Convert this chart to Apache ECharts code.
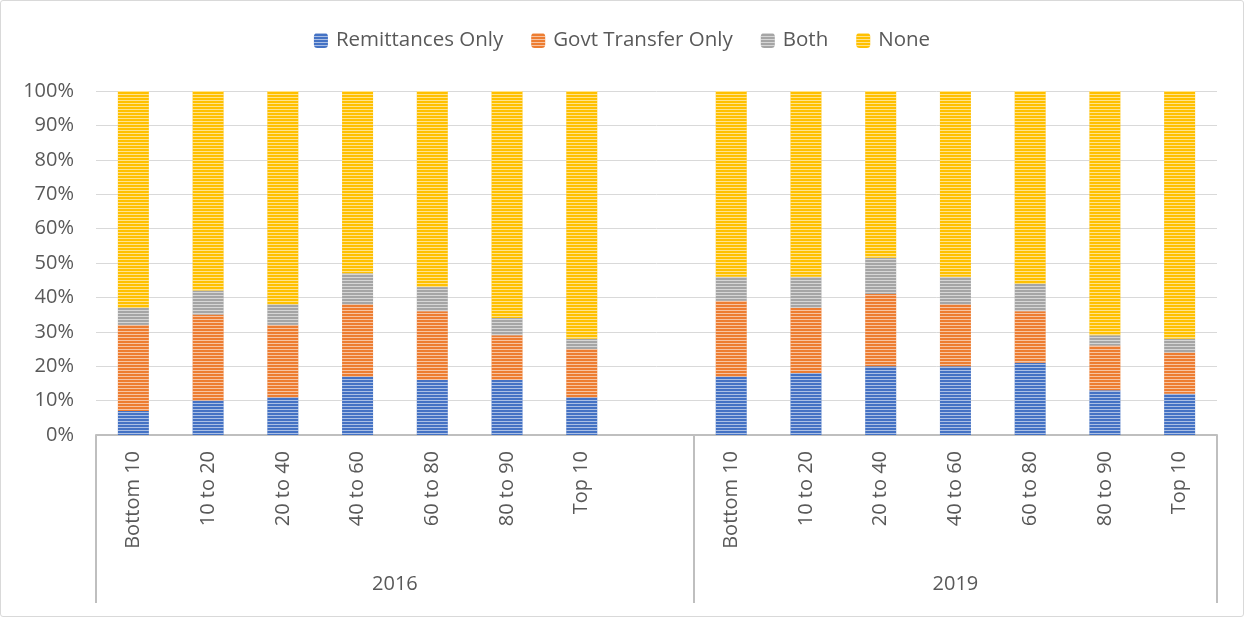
<!DOCTYPE html>
<html>
<head>
<meta charset="utf-8">
<script src="https://cdn.jsdelivr.net/npm/echarts@6/dist/echarts.min.js"></script>
<style>
  html, body { margin: 0; padding: 0; background: #fff; }
  #main { width: 1242px; height: 615px; border: 1px solid #d9d9d9; border-radius: 3px; }
</style>
</head>
<body>
<div id="main"></div>
<script>
// categories: 2016 group (7 + one empty slot), then 2019 group
var categories = ['Bottom 10', '10 to 20', '20 to 40', '40 to 60', '60 to 80', '80 to 90', 'Top 10', '',
                  'Bottom 10', '10 to 20', '20 to 40', '40 to 60', '60 to 80', '80 to 90', 'Top 10'];
var groupLabels = { 4: '2016', 11.5: '2019' };
var legendNames = ['Remittances Only', 'Govt Transfer Only', 'Both', 'None'];

// shares in %
var remittances = [7, 10, 11, 17, 16, 16, 11, '-', 17, 18, 20, 20, 21, 13, 12];
var govtTransfer = [25, 25, 21, 21, 20, 13, 14, '-', 22, 19, 21, 18, 15, 13, 12];
var both = [5, 7, 6, 9, 7, 5, 3, '-', 7, 9, 10.5, 8, 8, 3, 4];
var none = [63, 58, 62, 53, 57, 66, 72, '-', 54, 54, 48.5, 54, 56, 71, 72];

var colors = ['#4472c4', '#ed7d31', '#a5a5a5', '#ffc000'];
var font = '"Open Sans", Lato, sans-serif';

var myChart = echarts.init(document.getElementById('main'));

function mkSeries(name, data, i) {
  return {
    name: name,
    type: 'bar',
    stack: 'all',
    data: data,
    barWidth: 31,
    xAxisIndex: 0,
    itemStyle: {
      color: colors[i],
      decal: {
        symbol: 'rect',
        symbolSize: 1,
        dashArrayX: [1, 0],
        dashArrayY: [1, 2],
        rotation: 0,
        color: 'rgba(255,255,255,0.55)'
      }
    }
  };
}

var option = {
  animation: false,
  textStyle: { fontFamily: font },
  color: colors,
  legend: {
    top: 24,
    left: 'center',
    itemWidth: 14,
    itemHeight: 15,
    itemGap: 28,
    textStyle: { fontSize: 20.5, color: '#595959', fontFamily: font, padding: [0, 0, 0, 3] },
    data: legendNames
  },
  grid: { left: 95, right: 26, top: 90, bottom: 181 },
  xAxis: [
    {
      type: 'category',
      data: categories,
      position: 'bottom',
      axisLine: { lineStyle: { color: '#bfbfbf', width: 2 } },
      axisTick: {
        show: true,
        length: 168,
        interval: function (idx) { return idx === 0 || idx === 8; },
        lineStyle: { color: '#bfbfbf', width: 2 }
      },
      axisLabel: {
        rotate: 90,
        interval: 0,
        margin: 16,
        fontSize: 20,
        color: '#595959',
        fontFamily: font
      }
    },
    {
      type: 'value',
      position: 'bottom',
      min: 0,
      max: 15,
      interval: 0.5,
      axisLine: { show: false },
      axisTick: { show: false },
      splitLine: { show: false },
      axisLabel: {
        margin: 139,
        fontSize: 20,
        color: '#595959',
        fontFamily: font,
        showMinLabel: false,
        showMaxLabel: false,
        formatter: function (v) { return groupLabels[v] || ''; }
      }
    }
  ],
  yAxis: {
    type: 'value',
    min: 0,
    max: 100,
    interval: 10,
    axisLine: { show: false },
    axisTick: { show: false },
    splitLine: { lineStyle: { color: '#d9d9d9', width: 1 } },
    axisLabel: {
      formatter: '{value}%',
      fontSize: 20,
      color: '#595959',
      margin: 22,
      fontFamily: font
    }
  },
  series: [
    mkSeries(legendNames[0], remittances, 0),
    mkSeries(legendNames[1], govtTransfer, 1),
    mkSeries(legendNames[2], both, 2),
    mkSeries(legendNames[3], none, 3)
  ]
};

myChart.setOption(option);
</script>
</body>
</html>
